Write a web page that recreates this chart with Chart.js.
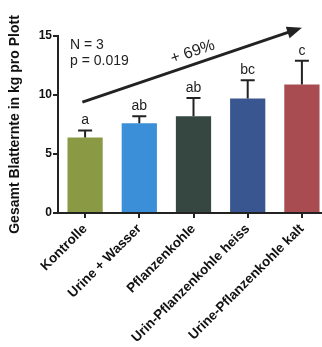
<!DOCTYPE html>
<html>
<head>
<meta charset="utf-8">
<script src="https://cdn.jsdelivr.net/npm/chart.js@4.4.1/dist/chart.umd.min.js"></script>
<style>
  html, body { margin: 0; padding: 0; background: #fff; overflow: hidden; }
  #wrap { width: 330px; height: 347px; }
</style>
</head>
<body>
<div id="wrap"><canvas id="chart-blatt"></canvas></div>
<script>
var categories = ['Kontrolle', 'Urine + Wasser', 'Pflanzenkohle', 'Urin-Pflanzenkohle heiss', 'Urine-Pflanzenkohle kalt'];
var ernte = [6.4, 7.6, 8.2, 9.7, 10.9];
var fehler = [0.6, 0.6, 1.55, 1.55, 2.0];
var gruppen = ['a', 'ab', 'ab', 'bc', 'c'];
var yTicks = [0, 5, 10, 15];
// arrow from first to last bar, in data units (category index, kg)
var pfeilStart = [-0.05, 9.4];
var pfeilEnde = [4.0, 15.7];
var pfeilText = '+ 69%';
var statText = ['N = 3', 'p = 0.019'];

var blatt = document.getElementById("chart-blatt").getContext("2d");
var schrift = '"Liberation Sans", Arial, sans-serif';

var extras = {
  id: 'extras',
  afterDatasetsDraw: function(chart) {
    var ctx = chart.ctx;
    var x = chart.scales.x, y = chart.scales.y;
    ctx.save();
    ctx.strokeStyle = '#222';
    ctx.fillStyle = '#222';
    ctx.lineWidth = 2;
    for (var i = 0; i < ernte.length; i++) {
      var cx = x.getPixelForValue(i);
      var top = y.getPixelForValue(ernte[i] + fehler[i]);
      ctx.beginPath();
      ctx.moveTo(cx, y.getPixelForValue(ernte[i]));
      ctx.lineTo(cx, top);
      ctx.moveTo(cx - 7, top);
      ctx.lineTo(cx + 7, top);
      ctx.stroke();
      ctx.font = '14px ' + schrift;
      ctx.textAlign = 'center';
      ctx.textBaseline = 'bottom';
      ctx.fillText(gruppen[i], cx, top - 3);
    }
    // arrow
    var step = x.getPixelForValue(1) - x.getPixelForValue(0);
    var x0 = x.getPixelForValue(0) + pfeilStart[0] * step;
    var y0 = y.getPixelForValue(pfeilStart[1]);
    var x1 = x.getPixelForValue(0) + pfeilEnde[0] * step;
    var y1 = y.getPixelForValue(pfeilEnde[1]);
    var ang = Math.atan2(y1 - y0, x1 - x0);
    ctx.lineWidth = 3;
    ctx.beginPath();
    ctx.moveTo(x0, y0);
    ctx.lineTo(x1 - 10 * Math.cos(ang), y1 - 10 * Math.sin(ang));
    ctx.stroke();
    ctx.beginPath();
    ctx.moveTo(x1, y1);
    ctx.lineTo(x1 - 15 * Math.cos(ang) + 6 * Math.sin(ang), y1 - 15 * Math.sin(ang) - 6 * Math.cos(ang));
    ctx.lineTo(x1 - 15 * Math.cos(ang) - 6 * Math.sin(ang), y1 - 15 * Math.sin(ang) + 6 * Math.cos(ang));
    ctx.closePath();
    ctx.fill();
    // +69% label
    var mx = x0 + (x1 - x0) * 0.52, my = y0 + (y1 - y0) * 0.52;
    ctx.save();
    ctx.translate(mx, my);
    ctx.rotate(ang);
    ctx.font = '16px ' + schrift;
    ctx.textAlign = 'center';
    ctx.textBaseline = 'bottom';
    ctx.fillText(pfeilText, 0, -4);
    ctx.restore();
    // N and p
    ctx.font = '14px ' + schrift;
    ctx.textAlign = 'left';
    ctx.textBaseline = 'top';
    ctx.fillText(statText[0], chart.chartArea.left + 12, chart.chartArea.top + 2);
    ctx.fillText(statText[1], chart.chartArea.left + 12, chart.chartArea.top + 18);
    ctx.restore();
  }
};

var blattChart = new Chart(blatt, {
  type: 'bar',
  data: {
    labels: categories,
    datasets: [{
      label: '',
      data: ernte,
      backgroundColor: [
        "#8a9a44",
        "#3a8fd8",
        "#364640",
        "#3a5690",
        "#a84c52"
      ],
      borderWidth: 0,
      categoryPercentage: 1,
      barPercentage: 0.65
    }]
  },
  options: {
    responsive: true,
    maintainAspectRatio: false,
    animation: false,
    layout: { padding: { top: 36, right: 1, left: 7 } },
    plugins: {
      legend: { display: false },
      tooltip: { enabled: false }
    },
    scales: {
      x: {
        grid: { drawOnChartArea: false, offset: false, tickLength: 5, color: '#222', lineWidth: 2 },
        border: { color: '#222', width: 2 },
        ticks: {
          color: '#111',
          font: { family: schrift, size: 13.5, weight: 'bold' },
          minRotation: 45,
          maxRotation: 45,
          padding: 3
        },
        afterFit: function(scale) { scale.height = 134; }
      },
      y: {
        min: 0,
        max: 15,
        afterBuildTicks: function(scale) {
          scale.ticks = yTicks.map(function(v) { return { value: v }; });
        },
        grid: { drawOnChartArea: false, tickLength: 5, color: '#222', lineWidth: 2 },
        border: { color: '#222', width: 2 },
        ticks: {
          color: '#111',
          font: { family: schrift, size: 12, weight: 'bold' },
          padding: 1
        },
        title: {
          display: true,
          text: 'Gesamt Blatternte in kg pro Plott',
          color: '#111',
          font: { family: schrift, size: 14, weight: 'bold' },
          padding: { top: 0, bottom: 4 }
        },
        afterFit: function(scale) { scale.width = 51; }
      }
    }
  },
  plugins: [extras]
});
</script>
</body>
</html>
